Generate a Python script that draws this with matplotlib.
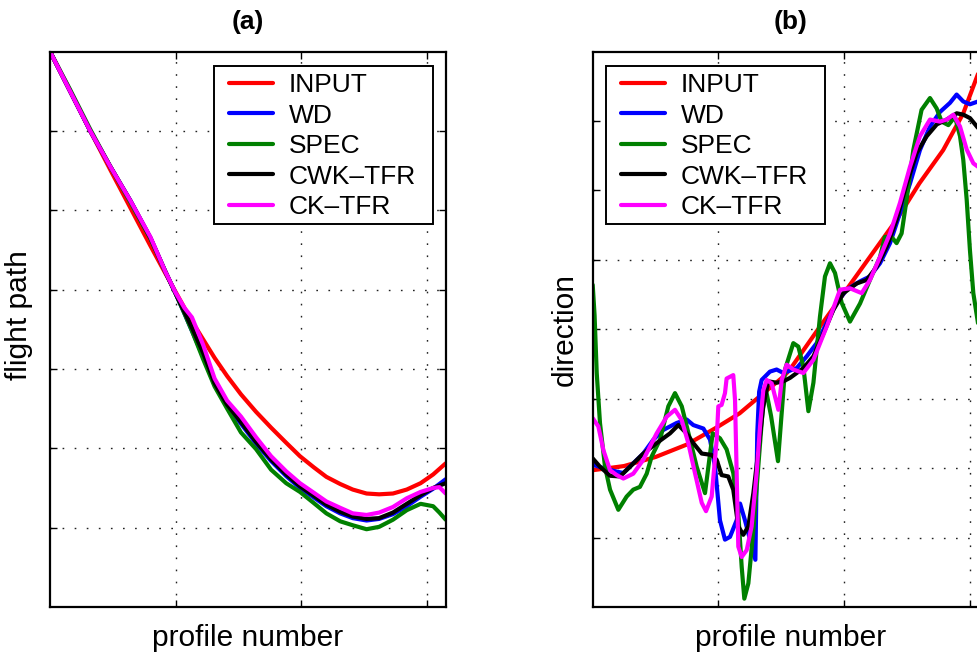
import numpy as np
import matplotlib
matplotlib.use("Agg")
import matplotlib.pyplot as plt
from matplotlib.patches import Rectangle

plt.rcParams['font.family'] = ['Liberation Sans', 'DejaVu Sans']

# ---- (a) flight path ----
x_a = [0, 16, 32, 48, 64, 80, 92, 100, 107, 113, 122, 131, 141, 152, 164, 176,
       188, 199, 210, 220, 231, 241, 252, 262, 273, 284, 295, 305, 310, 315]
input_a = [7.0, 6.5, 6.0, 5.51, 5.03, 4.55, 4.2, 3.97, 3.77, 3.6, 3.37, 3.14, 2.91, 2.68, 2.46, 2.26,
           2.07, 1.9, 1.76, 1.64, 1.55, 1.48, 1.43, 1.42, 1.43, 1.48, 1.56, 1.67, 1.74, 1.81]
wd_a = [7.0, 6.5, 6.0, 5.55, 5.12, 4.65, 4.22, 3.95, 3.7, 3.48, 3.15, 2.8, 2.53, 2.31, 2.06, 1.84,
        1.65, 1.5, 1.38, 1.27, 1.18, 1.12, 1.09, 1.11, 1.17, 1.27, 1.39, 1.49, 1.55, 1.61]
spec_a = [7.0, 6.52, 6.02, 5.55, 5.1, 4.64, 4.22, 3.95, 3.7, 3.48, 3.12, 2.78, 2.5, 2.2, 1.99, 1.73,
          1.56, 1.45, 1.31, 1.18, 1.08, 1.03, 0.98, 1.01, 1.1, 1.22, 1.3, 1.27, 1.19, 1.1]
cwk_a = [7.0, 6.5, 6.0, 5.55, 5.12, 4.65, 4.22, 3.95, 3.72, 3.52, 3.2, 2.82, 2.55, 2.33, 2.08, 1.86,
         1.67, 1.52, 1.4, 1.29, 1.2, 1.14, 1.11, 1.12, 1.19, 1.3, 1.41, 1.5, 1.53, 1.56]
ck_a = [7.0, 6.5, 6.0, 5.55, 5.12, 4.66, 4.22, 3.96, 3.77, 3.65, 3.3, 2.88, 2.6, 2.4, 2.14, 1.9,
        1.71, 1.56, 1.44, 1.33, 1.25, 1.18, 1.16, 1.19, 1.26, 1.37, 1.45, 1.5, 1.51, 1.43]

# ---- (b) direction ----
x_in_b = [0, 25, 50, 75, 100, 117, 136, 152, 157, 181, 202, 221, 242, 260, 279, 295, 307, 315]
input_b = [1.97, 2.03, 2.16, 2.34, 2.6, 2.79, 3.08, 3.32, 3.42, 4.04, 4.57, 5.05, 5.58, 6.1, 6.58, 7.11, 7.69, 8.1]

x_wd_b = [0, 8.5, 19.1, 24.4, 32.3, 40.3, 48.3, 56.2, 66.8, 74.8, 80.1, 88.1, 93.4, 97.4, 101.3, 105.3,
          109.3, 114.6, 117.3, 121.2, 125.2, 129.5, 131, 132.5, 134.5, 141.1, 146.4, 151.8, 162.4, 170.4,
          178.3, 186.3, 194.2, 202.2, 212.8, 220.7, 228.7, 236.7, 244.6, 252.6, 260.5, 268.5, 276.5,
          284.4, 289.7, 295, 300.3, 306.7, 315]
wd_b = [2.05, 2.0, 1.95, 1.93, 2.07, 2.21, 2.41, 2.55, 2.65, 2.7, 2.62, 2.57, 2.41, 2.02, 1.25, 0.97,
        1.01, 1.25, 1.49, 1.25, 0.97, 0.68, 2.5, 3.1, 3.27, 3.39, 3.42, 3.37, 3.44, 3.61,
        3.8, 4.09, 4.38, 4.57, 4.69, 4.76, 4.95, 5.24, 5.67, 6.1, 6.58, 6.92, 7.13,
        7.26, 7.38, 7.28, 7.24, 7.28, 7.3]

x_spec_b = [0, 1.5, 3.2, 5.8, 9.8, 13.8, 20.4, 27, 32.3, 37.6, 43, 47, 53.6, 60.2, 65.5, 70.9, 77.5,
            82.8, 89.4, 95.5, 101.3, 106.6, 111.9, 115.9, 118.6, 120.7, 123.9, 127.9, 131.8, 135.3,
            138, 142, 147.5, 153.1, 159.7, 163.7, 167.7, 171.7, 175.7, 180.9, 184.9, 188.9, 192.9,
            198.2, 204.8, 212.8, 220.7, 228.7, 232.6, 237.9, 241.9, 245.9, 249.9, 255.2, 261.8, 268.5,
            273.8, 277.8, 283.1, 288.4, 292.4, 295, 297.7, 300.3, 303, 306.7, 311, 315]
spec_b = [4.64, 4.2, 3.37, 2.65, 2.02, 1.69, 1.4, 1.59, 1.69, 1.73, 1.92, 2.17, 2.41, 2.89, 3.08, 2.89, 2.41,
          2.02, 1.64, 2.5, 2.43, 2.27, 1.93, 1.35, 0.58, 0.12, 0.34, 1.11, 2.02, 2.84,
          3.12, 2.75, 2.1, 3.42, 3.8, 3.75, 3.46, 2.82, 3.23, 4.18, 4.76, 4.95, 4.81,
          4.38, 4.11, 4.37, 4.71, 5.04, 5.33, 5.33, 5.24, 5.38, 5.87, 6.58, 7.16, 7.33,
          7.18, 6.99, 6.94, 7.06, 6.78, 6.44, 5.87, 5.14, 4.52, 4.09, 3.8, 3.6]

x_cwk_b = [0, 5.8, 13.8, 21.7, 29.7, 40.3, 50.9, 61.5, 68.2, 74.8, 80.1, 86.8, 94.7, 98.7, 102.6, 107.9,
           111.9, 115.9, 119.9, 123.9, 127.9, 131.9, 135.8, 139.8, 146.4, 151.8, 157.1, 167.7, 175.7,
           183.7, 191.6, 199.6, 210.2, 218.1, 226.1, 234.1, 242, 250, 258, 265.9, 273.9, 281.8,
           289.8, 295.1, 300.4, 306.7, 315]
cwk_b = [2.14, 2.02, 1.89, 1.88, 2.02, 2.21, 2.36, 2.5, 2.62, 2.5, 2.36, 2.21, 2.19, 2.12, 1.9, 1.88,
         1.69, 1.16, 1.04, 1.16, 1.64, 2.26, 2.89, 3.25, 3.23, 3.25, 3.3, 3.44, 3.61,
         3.94, 4.28, 4.52, 4.66, 4.71, 4.9, 5.19, 5.58, 6.1, 6.54, 6.78, 6.95, 7.02,
         7.11, 7.09, 7.04, 6.9, 6.6]

x_ck_b = [0, 4.5, 8.5, 13.8, 19.1, 24.4, 32.3, 40.3, 50.9, 58.9, 65.5, 70.9, 76.1, 81.4, 86.8, 90.2,
          94.7, 98.7, 100, 102.6, 105.3, 106.6, 111.9, 113.3, 114.6, 115.9, 118.6, 122.6, 126.5, 130.5,
          133.2, 135.8, 138.5, 142.5, 147.8, 150.5, 154.4, 159.7, 167.7, 175.7, 186.3, 196.9, 204.8,
          214.1, 220.7, 228.7, 236.7, 244.6, 252.6, 260.5, 268.5, 276.5, 281.8, 287.1, 292.4, 297.7,
          303, 306.7, 315]
ck_b = [2.72, 2.6, 2.26, 1.97, 1.9, 1.85, 1.92, 2.12, 2.5, 2.74, 2.84, 2.69, 2.36, 1.93, 1.5, 1.38,
        1.59, 2.41, 2.89, 2.91, 3.08, 3.29, 3.34, 2.98, 1.93, 0.87, 0.72, 0.82, 1.16, 1.93,
        2.6, 3.12, 3.27, 3.22, 2.84, 3.27, 3.49, 3.42, 3.37, 3.56, 4.04, 4.57, 4.59,
        4.52, 4.71, 5.04, 5.38, 5.82, 6.34, 6.78, 7.02, 6.99, 7.02, 7.09, 6.92, 6.59,
        6.39, 6.34, 6.2]

labels = ['INPUT', 'WD', 'SPEC', 'CWK\u2013TFR', 'CK\u2013TFR']
colors = ['#ff0000', '#0000ff', '#008000', '#000000', '#ff00ff']

fig = plt.figure(figsize=(9.78, 6.53), dpi=100)
ax1 = fig.add_axes([50 / 978, 46 / 653, 395.7 / 978, 555.5 / 653])
ax2 = fig.add_axes([592.7 / 978, 46 / 653, 395.7 / 978, 555.5 / 653])

series_a = [(x_a, input_a), (x_a, wd_a), (x_a, spec_a), (x_a, cwk_a), (x_a, ck_a)]
series_b = [(x_in_b, input_b), (x_wd_b, wd_b), (x_spec_b, spec_b), (x_cwk_b, cwk_b), (x_ck_b, ck_b)]

# legend entry anchor (x, y) and framed box (x0, y0, w, h), all in axes fraction
legend_pos = {'(a)': ((0.452, 0.961), (0.4145, 0.6895, 0.5535, 0.2845)),
              '(b)': ((0.0715, 0.961), (0.0336, 0.6895, 0.5535, 0.2845))}

for ax, series, ymax, ylab, ttl in [(ax1, series_a, 7, 'flight path', '(a)'),
                                     (ax2, series_b, 8, 'direction', '(b)')]:
    for (xs, ys), c, lab in zip(series, colors, labels):
        ax.plot(xs, ys, color=c, lw=3.0, label=lab, solid_joinstyle='round',
                solid_capstyle='round')
    ax.set_xlim(0, 315)
    ax.set_ylim(0, ymax)
    ax.set_xticks([100, 200, 300])
    ax.set_yticks(range(1, ymax))
    ax.tick_params(direction='in', length=5, width=1, top=True, right=True,
                   labelbottom=False, labelleft=False)
    ax.grid(True, color='#222222', linestyle=(0, (1.2, 7.5)), linewidth=1.0)
    for sp in ax.spines.values():
        sp.set_linewidth(1.6)
    ax.set_xlabel('profile number', fontsize=21.5, labelpad=12)
    ax.set_ylabel(ylab, fontsize=21.5, labelpad=10)
    ax.set_title(ttl, fontsize=19, fontweight='bold', pad=16)

    anchor, box = legend_pos[ttl]
    ax.add_patch(Rectangle(box[:2], box[2], box[3], transform=ax.transAxes,
                           facecolor='white', edgecolor='black', lw=1.4, zorder=4))
    leg = ax.legend(loc='upper left', bbox_to_anchor=anchor, fontsize=19, frameon=False,
                    handlelength=1.67, handletextpad=0.6, labelspacing=0.245,
                    borderpad=0, borderaxespad=0)
    leg.set_zorder(5)

# the flight path label sits a little above the axes centre
ax1.yaxis.set_label_coords(-0.043, 0.525)

fig.savefig('out.png', dpi=100)
